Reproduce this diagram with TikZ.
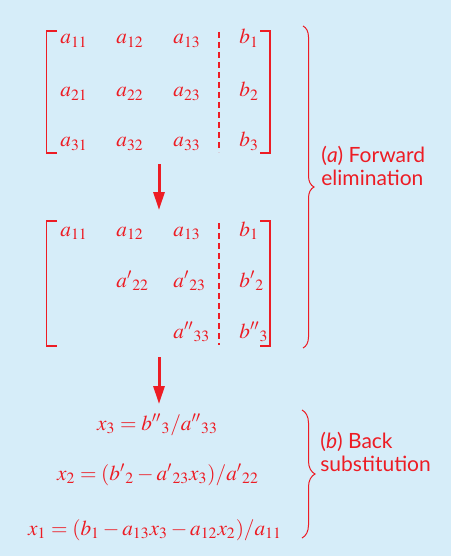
\documentclass[tikz,border=0pt]{standalone}
\usepackage{mathptmx}
\usepackage[no-math]{fontspec}
\setmainfont{Lato}
\usetikzlibrary{arrows.meta,decorations.pathreplacing}

\definecolor{paneblue}{RGB}{214,237,249}
\definecolor{gausred}{RGB}{237,28,36}

\tikzset{
  entry/.style={anchor=base west,inner sep=0pt,text=gausred,font=\fontsize{10.6}{13}\selectfont},
  equation/.style={anchor=base,inner sep=0pt,text=gausred,font=\fontsize{10.6}{13}\selectfont},
  bracket/.style={draw=gausred,line width=0.75pt},
  separator/.style={draw=gausred,line width=0.6pt,dash pattern=on 2.8pt off 2.2pt},
  down arrow/.style={draw=gausred,line width=1.5pt,-{Triangle[length=9pt,width=5.5pt]}},
  stage brace/.style={draw=gausred,line width=0.5pt,decorate,decoration={brace,aspect=0.5}},
  stage label/.style={anchor=base west,inner sep=0pt,text=gausred,align=left,font=\fontsize{10.5}{11.5}\selectfont}
}

\begin{document}
\begin{tikzpicture}[x=0.5pt,y=-0.5pt]
\path[fill=paneblue,draw=none] (0,0) rectangle (451,556);
% augmented matrix before elimination
\path[bracket] (57,31) -- (46.5,31) -- (46.5,153) -- (57,153);
\path[bracket] (260,31) -- (270,31) -- (270,153) -- (260,153);
\path[separator] (219,32) -- (219,152);
\node[entry] (m-0-1-1) at (60,44) {$a_{11}$};
\node[entry] (m-0-1-2) at (116,44) {$a_{12}$};
\node[entry] (m-0-1-3) at (173,44) {$a_{13}$};
\node[entry] (m-0-1-4) at (239,44) {$b_1$};
\node[entry] (m-0-2-1) at (60,97) {$a_{21}$};
\node[entry] (m-0-2-2) at (116,97) {$a_{22}$};
\node[entry] (m-0-2-3) at (173,97) {$a_{23}$};
\node[entry] (m-0-2-4) at (239,97) {$b_2$};
\node[entry] (m-0-3-1) at (60,147) {$a_{31}$};
\node[entry] (m-0-3-2) at (116,147) {$a_{32}$};
\node[entry] (m-0-3-3) at (173,147) {$a_{33}$};
\node[entry] (m-0-3-4) at (239,147) {$b_3$};
\coordinate (arrow-0-top) at (159,164);
\coordinate (arrow-0-tip) at (159,210);
\draw[down arrow] (arrow-0-top) -- (arrow-0-tip);
% upper triangular form
\path[bracket] (57,221) -- (46.5,221) -- (46.5,346) -- (57,346);
\path[bracket] (260,221) -- (270,221) -- (270,346) -- (260,346);
\path[separator] (219,223) -- (219,345);
\node[entry] (m-1-1-1) at (60,236) {$a_{11}$};
\node[entry] (m-1-1-2) at (116,236) {$a_{12}$};
\node[entry] (m-1-1-3) at (173,236) {$a_{13}$};
\node[entry] (m-1-1-4) at (239,236) {$b_1$};
\node[entry] (m-1-2-2) at (116,287) {${a'}_{22}$};
\node[entry] (m-1-2-3) at (173,287) {${a'}_{23}$};
\node[entry] (m-1-2-4) at (239,287) {${b'}_{2}$};
\node[entry] (m-1-3-3) at (173,338) {${a''}_{33}$};
\node[entry] (m-1-3-4) at (239,338) {${b''}_{3}$};
\coordinate (arrow-1-top) at (159,357);
\coordinate (arrow-1-tip) at (159,404);
\draw[down arrow] (arrow-1-top) -- (arrow-1-tip);
% back substitution
\node[equation] (eq-3) at (157.5,430) {$x_3 = {b''}_3/{a''}_{33}$};
\node[equation] (eq-2) at (158,480) {$x_2 = ({b'}_2 - {a'}_{23}x_3)/{a'}_{22}$};
\node[equation] (eq-1) at (155,535) {$x_1 = (b_1 - a_{13}x_3 - a_{12}x_2)/a_{11}$};
% stage braces
\coordinate (brace-0-top) at (303,26);
\coordinate (brace-0-bottom) at (303,348);
\draw[stage brace,decoration={amplitude=5.5pt}] (brace-0-top) -- (brace-0-bottom);
\node[stage label] (stage-0) at (321,185) {(\textit{a}) Forward\\elimination};
\coordinate (brace-1-top) at (302,410);
\coordinate (brace-1-bottom) at (302,538);
\draw[stage brace,decoration={amplitude=6.5pt}] (brace-1-top) -- (brace-1-bottom);
\node[stage label] (stage-1) at (320,471) {(\textit{b}) Back\\substitution};
\end{tikzpicture}
\end{document}
